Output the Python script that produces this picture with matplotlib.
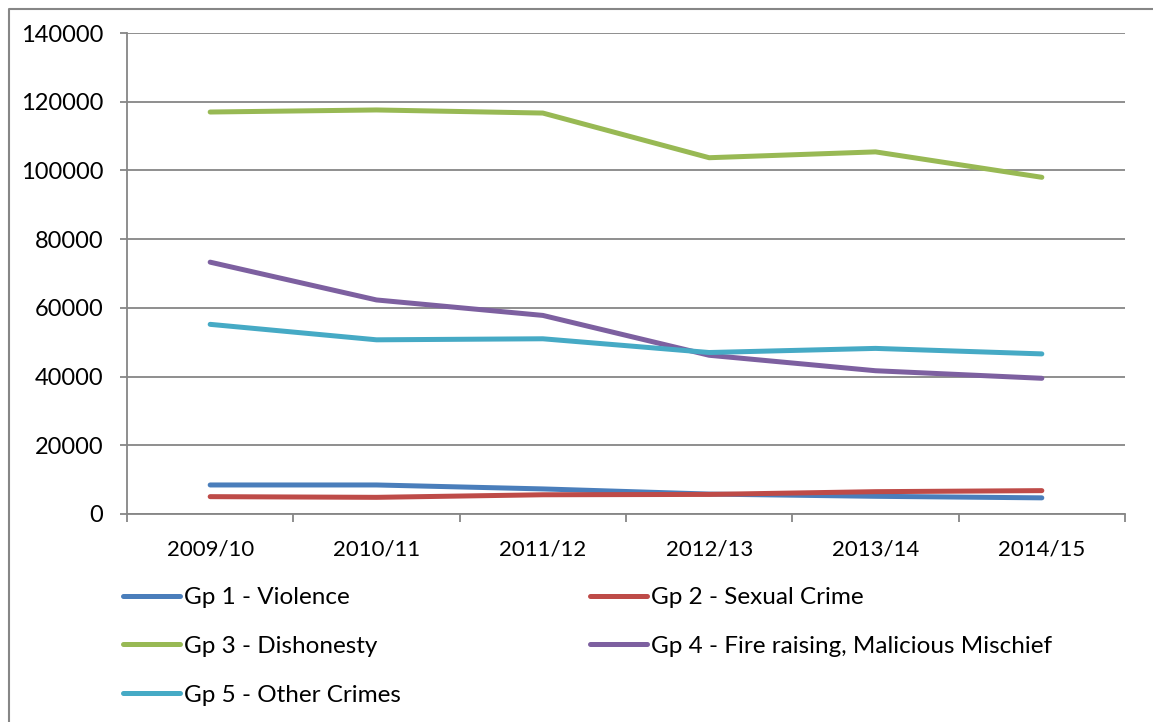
import matplotlib
matplotlib.use("Agg")
import matplotlib.pyplot as plt
from matplotlib.lines import Line2D
from matplotlib.ticker import MultipleLocator

plt.rcParams['font.family'] = ['Lato', 'DejaVu Sans']

years = ["2009/10", "2010/11", "2011/12", "2012/13", "2013/14", "2014/15"]

gp1_violence = [8450, 8450, 7300, 5800, 5150, 4700]
gp2_sexual = [5050, 4850, 5600, 5700, 6500, 6800]
gp3_dishonesty = [117000, 117600, 116700, 103700, 105400, 98000]
gp4_fire = [73300, 62300, 57800, 46200, 41700, 39500]
gp5_other = [55200, 50700, 51000, 47000, 48200, 46600]

series = [
    ("Gp 1 - Violence", gp1_violence, "#4a7ebb"),
    ("Gp 2 - Sexual Crime", gp2_sexual, "#be4b48"),
    ("Gp 3 - Dishonesty", gp3_dishonesty, "#98b954"),
    ("Gp 4 - Fire raising, Malicious Mischief", gp4_fire, "#7d60a0"),
    ("Gp 5 - Other Crimes", gp5_other, "#46aac5"),
]

grey = "#868686"

fig = plt.figure(figsize=(11.53, 7.22), dpi=100)
ax = fig.add_axes([127 / 1153, 1 - 514 / 722, (1125 - 127) / 1153, (514 - 33) / 722])

x = range(len(years))
handles = {}
for label, values, color in series:
    line, = ax.plot(x, values, color=color, lw=3.6, solid_capstyle="round",
                    solid_joinstyle="round", label=label, zorder=3)
    handles[label] = line

ax.set_xlim(-0.5, len(years) - 0.5)
ax.set_ylim(0, 140000)
ax.yaxis.set_major_locator(MultipleLocator(20000))
ax.grid(axis="y", color=grey, lw=1.3)
ax.set_axisbelow(True)

for side in ["top", "right"]:
    ax.spines[side].set_visible(False)
for side in ["left", "bottom"]:
    ax.spines[side].set_color(grey)
    ax.spines[side].set_linewidth(1.3)

ax.set_xticks(list(x))
ax.set_xticklabels(years)
ax.set_xticks([i - 0.5 for i in range(len(years) + 1)], minor=True)
ax.tick_params(axis="x", which="major", length=0, pad=18, labelsize=16)
ax.tick_params(axis="x", which="minor", length=6, width=1.3, color=grey, direction="out")
ax.tick_params(axis="y", length=5, width=1.3, color=grey, direction="out", pad=12, labelsize=17)

order = ["Gp 1 - Violence", "Gp 3 - Dishonesty", "Gp 5 - Other Crimes",
         "Gp 2 - Sexual Crime", "Gp 4 - Fire raising, Malicious Mischief"]
fig.legend([handles[k] for k in order], order, ncol=2, loc="upper left",
           bbox_to_anchor=(123 / 1153, 1 - 587 / 722), frameon=False, fontsize=17.5,
           handlelength=2.35, handletextpad=0.15, columnspacing=7.8,
           labelspacing=1.15, borderpad=0, borderaxespad=0)

# chart area border (left and top only visible)
fig.add_artist(Line2D([9 / 1153, 9 / 1153, 1.0], [0.0, 1 - 9 / 722, 1 - 9 / 722],
                      transform=fig.transFigure, color=grey, lw=1.5))

fig.savefig("out.png", dpi=100)
